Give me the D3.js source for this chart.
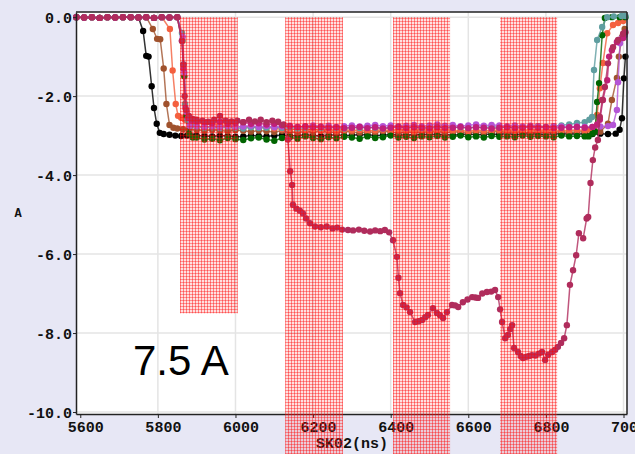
<!DOCTYPE html>
<html>
<head>
<meta charset="utf-8">
<script src="https://cdn.jsdelivr.net/npm/d3@7"></script>
<style>
  body { margin: 0; background: #e7e7f5; }
  svg { display: block; }
</style>
</head>
<body>
<div id="chart"></div>
<script>
// tick values
var xTicks = [5600, 5800, 6000, 6200, 6400, 6600, 6800, 7000];
var yTicks = [0, -2, -4, -6, -8, -10];

// shaded pulse windows (ns), first one only reaches -7.5 A
var pulseStart = [5857, 6128, 6406, 6682];
var pulseEnd   = [6006, 6277, 6553, 6829];
var pulseLow   = [-7.5, null, null, null];

// leading flat part, shared
var leadT = [5590,5610,5630,5650,5670,5690,5710,5730,5750,5770,5790,5810,5830,5850];
var leadV = [0.0,-0.01,0.0,-0.02,0.0,-0.01,0.0,0.0,-0.01,0.0,-0.02,0.0,-0.01,0.0];

// plateau sample times, shared
var plateauT = [5900,5920,5940,5960,5980,6000,6020,6040,6060,6080,
                6100,6120,6140,6160,6180,6200,6220,6240,6260,6280,
                6300,6320,6340,6360,6380,6400,6420,6440,6460,6480,
                6500,6520,6540,6560,6580,6600,6620,6640,6660,6680,
                6700,6720,6740,6760,6780,6800,6820,6840,6860,6880,
                6900];

var blackHead = [[5762,-0.35],[5770,-0.98],[5776,-1.0],[5784,-1.75],[5790,-2.3],[5797,-2.7],[5805,-2.93],[5815,-2.96],[5830,-2.98],[5845,-3.0],[5860,-3.01],[5875,-3.0],[5890,-3.02]];
var blackPlat = [-3.00,-3.01,-3.02,-3.00,-3.01,-3.03,-3.02,-3.00,-3.01,-3.02,
                 -3.00,-2.99,-3.01,-3.00,-2.98,-3.00,-3.01,-2.99,-2.98,-3.00,
                 -2.99,-2.97,-2.98,-3.00,-2.99,-2.97,-2.98,-2.99,-2.97,-2.98,
                 -2.96,-2.98,-2.97,-2.99,-2.97,-2.96,-2.98,-2.97,-2.96,-2.97,
                 -2.95,-2.97,-2.96,-2.95,-2.96,-2.97,-2.95,-2.96,-2.95,-2.96,
                 -2.95];
var blackTail = [[6920,-2.96],[6940,-2.95],[6960,-2.96],[6980,-2.95],[6990,-2.85],[6996,-2.56],[7001,-1.55],[7005,-1.0]];

var siennaHead = [[5787,-0.3],[5798,-0.55],[5806,-0.56],[5815,-1.3],[5822,-2.2],[5830,-2.73],[5840,-2.8],[5850,-2.82],[5865,-2.84],[5880,-2.85]];
var siennaPlat = [-2.86,-2.88,-2.85,-2.87,-2.89,-2.86,-2.88,-2.90,-2.87,-2.89,
                  -2.91,-2.88,-2.90,-2.92,-2.89,-2.91,-2.88,-2.90,-2.92,-2.89,
                  -2.91,-2.93,-2.90,-2.92,-2.89,-2.91,-2.93,-2.90,-2.92,-2.90,
                  -2.91,-2.89,-2.92,-2.90,-2.91,-2.93,-2.90,-2.92,-2.91,-2.89,
                  -2.92,-2.90,-2.91,-2.93,-2.90,-2.92,-2.91,-2.90,-2.92,-2.91,
                  -2.90];
var siennaTail = [[6920,-2.9],[6940,-2.9],[6960,-2.7],[6970,-2.1],[6983,-1.54],[6988,-1.0],[6996,-0.5],[7003,-0.3]];

var tomatoHead = [[5831,-0.3],[5838,-1.35],[5846,-2.2],[5852,-2.5],[5860,-2.55],[5870,-2.6],[5880,-2.65],[5890,-2.68]];
var tomatoPlat = [-2.68,-2.70,-2.72,-2.74,-2.73,-2.76,-2.78,-2.77,-2.80,-2.79,
                  -2.82,-2.84,-2.83,-2.85,-2.86,-2.84,-2.87,-2.86,-2.88,-2.85,
                  -2.87,-2.86,-2.88,-2.87,-2.85,-2.88,-2.86,-2.87,-2.89,-2.86,
                  -2.88,-2.87,-2.86,-2.88,-2.87,-2.89,-2.86,-2.88,-2.87,-2.86,
                  -2.88,-2.87,-2.89,-2.86,-2.88,-2.87,-2.86,-2.88,-2.87,-2.86,
                  -2.87];
var tomatoTail = [[6915,-2.86],[6925,-2.8],[6932,-2.48],[6939,-1.8],[6947,-1.16],[6958,-0.41],[6973,-0.2],[6986,-0.15],[6999,-0.1]];

var greenHead = [[5863,-0.6],[5868,-1.5],[5873,-2.5],[5880,-2.95],[5890,-3.05]];
var greenPlat = [-3.05,-3.10,-3.08,-3.12,-3.06,-3.09,-3.11,-3.07,-3.05,-3.10,
                 -3.13,-3.06,-3.04,-3.08,-3.02,-3.06,-3.09,-3.04,-3.07,-3.03,
                 -3.05,-3.08,-3.02,-3.06,-3.04,-3.00,-3.05,-3.03,-3.06,-3.02,
                 -3.04,-3.01,-3.05,-3.03,-3.00,-3.04,-3.02,-3.05,-3.01,-3.03,
                 -3.02,-3.04,-3.00,-3.03,-3.01,-3.02,-3.04,-3.00,-3.02,-3.01,
                 -3.02];
var greenTail = [[6910,-3.02],[6920,-2.95],[6927,-2.9],[6932,-2.15],[6937,-1.67],[6945,-0.46],[6952,-0.02],[6970,0.0],[6990,0.0],[7005,0.0]];

var tealHead = [[5862,-0.4],[5866,-1.2],[5870,-2.2],[5876,-2.6],[5885,-2.75]];
var tealPlat = [-2.78,-2.80,-2.79,-2.81,-2.78,-2.80,-2.82,-2.79,-2.81,-2.80,
                -2.78,-2.81,-2.79,-2.82,-2.80,-2.78,-2.81,-2.79,-2.80,-2.82,
                -2.79,-2.81,-2.78,-2.80,-2.82,-2.79,-2.77,-2.80,-2.78,-2.81,
                -2.79,-2.77,-2.80,-2.78,-2.79,-2.81,-2.78,-2.80,-2.77,-2.79,
                -2.78,-2.80,-2.78,-2.77,-2.76,-2.78,-2.76,-2.74,-2.72,-2.68,
                -2.66];
var tealTail = [[6912,-2.6],[6919,-2.53],[6924,-1.34],[6932,-0.58],[6945,-0.25],[6958,0.0],[6975,0.02],[6995,0.03],[7005,0.03]];

var orchidHead = [[5864,-0.5],[5868,-1.4],[5874,-2.4],[5882,-2.75]];
var orchidPlat = [-2.76,-2.78,-2.77,-2.79,-2.76,-2.78,-2.77,-2.75,-2.78,-2.76,
                  -2.79,-2.77,-2.75,-2.78,-2.76,-2.74,-2.77,-2.75,-2.78,-2.76,
                  -2.74,-2.77,-2.75,-2.73,-2.76,-2.74,-2.77,-2.75,-2.73,-2.76,
                  -2.74,-2.72,-2.75,-2.73,-2.76,-2.74,-2.72,-2.75,-2.73,-2.74,
                  -2.76,-2.74,-2.77,-2.75,-2.76,-2.78,-2.76,-2.77,-2.78,-2.77,
                  -2.78];
var orchidTail = [[6920,-2.78],[6940,-2.77],[6960,-2.76],[6973,-2.73],[6983,-2.35],[6986,-1.65],[6991,-0.66],[6996,-0.53],[7003,-0.45]];

var violetHead = [[5862,-0.6],[5866,-1.3],[5871,-2.3],[5878,-2.55],[5888,-2.62]];
var violetPlat = [-2.64,-2.66,-2.68,-2.65,-2.70,-2.68,-2.66,-2.70,-2.69,-2.72,
                  -2.70,-2.74,-2.76,-2.78,-2.77,-2.79,-2.78,-2.80,-2.79,-2.81,
                  -2.80,-2.78,-2.81,-2.79,-2.82,-2.80,-2.78,-2.81,-2.79,-2.80,
                  -2.82,-2.79,-2.81,-2.80,-2.78,-2.81,-2.79,-2.80,-2.82,-2.80,
                  -2.79,-2.81,-2.80,-2.78,-2.80,-2.79,-2.81,-2.80,-2.79,-2.78,
                  -2.80];
var violetTail = [[6920,-2.78],[6932,-2.72],[6939,-2.6],[6947,-2.1],[6958,-1.6],[6963,-1.0],[6970,-0.84],[6983,-0.63],[6999,-0.53]];

// the 7.5 A trace
var maroonPts = [[5862,-0.6],[5866,-1.2],[5869,-2.0],[5873,-2.35],[5880,-2.5],[5890,-2.58],
  [5900,-2.6],[5915,-2.62],[5930,-2.65],[5945,-2.6],[5960,-2.5],[5975,-2.62],[5990,-2.64],[6005,-2.62],
  [6020,-2.66],[6035,-2.6],[6050,-2.64],[6065,-2.6],[6080,-2.66],[6095,-2.62],[6110,-2.65],[6124,-2.72],
  [6135,-3.1],[6141,-3.9],[6146,-4.25],[6148,-4.75],[6157,-4.85],[6166,-4.9],[6174,-4.97],[6182,-5.1],
  [6192,-5.22],[6205,-5.3],[6220,-5.32],[6235,-5.3],[6250,-5.35],[6262,-5.33],[6275,-5.38],[6290,-5.39],
  [6303,-5.4],[6318,-5.38],[6332,-5.41],[6347,-5.43],[6360,-5.4],[6373,-5.42],[6385,-5.39],[6396,-5.45],
  [6406,-5.65],[6416,-6.07],[6420,-6.6],[6424,-6.99],[6432,-7.29],[6441,-7.35],[6450,-7.47],[6463,-7.72],
  [6472,-7.7],[6481,-7.67],[6489,-7.6],[6496,-7.54],[6509,-7.37],[6519,-7.49],[6527,-7.55],[6535,-7.62],
  [6545,-7.47],[6558,-7.29],[6566,-7.3],[6574,-7.34],[6586,-7.22],[6598,-7.15],[6610,-7.09],[6618,-7.1],
  [6625,-7.11],[6636,-7.0],[6648,-6.96],[6659,-6.95],[6669,-6.91],[6677,-7.09],[6682,-7.4],[6687,-7.72],
  [6695,-8.13],[6702,-8.05],[6708,-7.9],[6713,-7.8],[6718,-8.38],[6728,-8.48],[6735,-8.58],[6741,-8.63],
  [6750,-8.6],[6757,-8.58],[6764,-8.56],[6773,-8.57],[6782,-8.52],[6790,-8.48],[6798,-8.68],[6806,-8.55],
  [6816,-8.48],[6824,-8.42],[6831,-8.35],[6839,-8.25],[6847,-8.13],[6854,-7.8],[6862,-6.78],[6870,-6.41],
  [6878,-6.03],[6885,-5.47],[6896,-5.6],[6905,-5.1],[6909,-5.06],[6915,-4.2],[6921,-3.62],[6927,-3.3],
  [6934,-3.11],[6939,-2.53],[6945,-2.1],[6952,-1.77],[6960,-1.17],[6973,-0.76],[6986,-0.58],[6999,-0.42],[7005,-0.38]];

var w = 635;
var h = 454;

function buildSeries(head, plat, tail) {
  var firstT = head[0][0];
  var pts = [];
  leadT.forEach(function(t, i) {
    if (t < firstT - 5) pts.push([t, leadV[i]]);
  });
  pts = pts.concat(head);
  plateauT.forEach(function(t, i) {
    if (plat[i] !== undefined) pts.push([t, plat[i]]);
  });
  return pts.concat(tail);
}

var series = [
  { color: "#000000", pts: buildSeries(blackHead, blackPlat, blackTail) },
  { color: "#a0522d", pts: buildSeries(siennaHead, siennaPlat, siennaTail) },
  { color: "#f4603f", pts: buildSeries(tomatoHead, tomatoPlat, tomatoTail) },
  { color: "#006400", pts: buildSeries(greenHead, greenPlat, greenTail) },
  { color: "#5f9ea0", pts: buildSeries(tealHead, tealPlat, tealTail) },
  { color: "#b455d6", pts: buildSeries(orchidHead, orchidPlat, orchidTail) },
  { color: "#c0207a", pts: buildSeries(violetHead, violetPlat, violetTail) },
  { color: "#b02c5c", pts: buildSeries(maroonPts.slice(0, 1), [], maroonPts.slice(1)) }
];

var xScale = d3.scaleLinear().domain([5589, 7009]).range([76, 627]);
var yScale = d3.scaleLinear().domain([0.13, -10.05]).range([12, 414]);

var svg = d3.select("#chart")
            .append("svg")
            .attr("width", w)
            .attr("height", h);

svg.append("rect").attr("width", w).attr("height", h).attr("fill", "#e7e7f5");

// hatch pattern for pulse windows
var defs = svg.append("defs");
var pat = defs.append("pattern")
              .attr("id", "hatch")
              .attr("patternUnits", "userSpaceOnUse")
              .attr("width", 3)
              .attr("height", 3);
pat.append("rect").attr("width", 3).attr("height", 3).attr("fill", "rgba(255,60,60,0.16)");
pat.append("rect").attr("width", 1).attr("height", 3).attr("fill", "rgba(255,0,0,0.42)");
pat.append("rect").attr("width", 3).attr("height", 1).attr("fill", "rgba(255,0,0,0.36)");

// plot area
svg.append("rect")
   .attr("x", xScale.range()[0])
   .attr("y", yScale.range()[0])
   .attr("width", xScale.range()[1] - xScale.range()[0])
   .attr("height", yScale.range()[1] - yScale.range()[0])
   .attr("fill", "#ffffff");

// grid
svg.append("g").selectAll("line")
   .data(xTicks.filter(function(d) { return d > 5600; }))
   .enter().append("line")
   .attr("x1", function(d) { return xScale(d); })
   .attr("x2", function(d) { return xScale(d); })
   .attr("y1", yScale.range()[0])
   .attr("y2", yScale.range()[1])
   .attr("stroke", "#e4e4e4")
   .attr("stroke-width", 1.5);

svg.append("g").selectAll("line")
   .data(yTicks)
   .enter().append("line")
   .attr("x1", xScale.range()[0])
   .attr("x2", xScale.range()[1])
   .attr("y1", function(d) { return yScale(d); })
   .attr("y2", function(d) { return yScale(d); })
   .attr("stroke", "#e4e4e4")
   .attr("stroke-width", 1.5);

// traces
var line = d3.line()
             .x(function(d) { return xScale(d[0]); })
             .y(function(d) { return yScale(d[1]); });

var traces = svg.append("g");
series.forEach(function(s) {
  var g = traces.append("g");
  g.append("path")
   .datum(s.pts)
   .attr("d", line)
   .attr("fill", "none")
   .attr("stroke", s.color)
   .attr("stroke-opacity", 0.8)
   .attr("stroke-width", 1.5);
  g.selectAll("circle")
   .data(s.pts)
   .enter().append("circle")
   .attr("cx", function(d) { return xScale(d[0]); })
   .attr("cy", function(d) { return yScale(d[1]); })
   .attr("r", 3.2)
   .attr("fill", s.color);
});

// axes
var xAxis = d3.axisBottom(xScale)
              .tickValues(xTicks)
              .tickSize(4)
              .tickSizeOuter(0)
              .tickFormat(d3.format("d"));
var yAxis = d3.axisLeft(yScale)
              .tickValues(yTicks)
              .tickSize(3)
              .tickSizeOuter(0)
              .tickFormat(function(d) { return d.toFixed(1); });

var gx = svg.append("g").attr("transform", "translate(0," + yScale.range()[1] + ")").call(xAxis);
var gy = svg.append("g").attr("transform", "translate(" + xScale.range()[0] + ",0)").call(yAxis);

[gx, gy].forEach(function(g) {
  g.select(".domain").attr("stroke", "#222").attr("stroke-width", 1.5);
  g.selectAll(".tick line").attr("stroke", "#222");
  g.selectAll("text")
   .attr("fill", "#111")
   .style("font-family", "'Liberation Mono', 'DejaVu Sans Mono', monospace")
   .style("font-weight", "bold")
   .style("font-size", "15px");
});
gx.selectAll("text").attr("y", 18).attr("dy", 0).attr("dx", 5);
gy.selectAll("text").attr("x", -4).attr("dy", "0.34em");

// top and right frame
svg.append("line")
   .attr("x1", xScale.range()[0]).attr("x2", xScale.range()[1])
   .attr("y1", yScale.range()[0]).attr("y2", yScale.range()[0])
   .attr("stroke", "#222").attr("stroke-width", 1.5);
svg.append("line")
   .attr("x1", xScale.range()[1]).attr("x2", xScale.range()[1])
   .attr("y1", yScale.range()[0]).attr("y2", yScale.range()[1])
   .attr("stroke", "#222").attr("stroke-width", 1.5);

// axis titles
svg.append("text")
   .attr("x", 352).attr("y", 448)
   .attr("text-anchor", "middle")
   .style("font-family", "'Liberation Mono', monospace")
   .style("font-weight", "bold")
   .style("font-size", "15px")
   .attr("fill", "#111")
   .text("SK02(ns)");
svg.append("text")
   .attr("x", 18).attr("y", 217)
   .attr("text-anchor", "middle")
   .style("font-family", "'Liberation Mono', monospace")
   .style("font-weight", "bold")
   .style("font-size", "12px")
   .attr("fill", "#111")
   .text("A");

// pulse windows
svg.append("g").selectAll("rect")
   .data(pulseStart)
   .enter().append("rect")
   .attr("x", function(d) { return xScale(d); })
   .attr("y", yScale(0))
   .attr("width", function(d, i) { return xScale(pulseEnd[i]) - xScale(d); })
   .attr("height", function(d, i) {
     var bottom = pulseLow[i] === null ? h : yScale(pulseLow[i]);
     return bottom - yScale(0);
   })
   .attr("fill", "url(#hatch)");

// annotation
svg.append("text")
   .attr("x", 133).attr("y", 375)
   .style("font-family", "'Liberation Sans', Arial, sans-serif")
   .style("font-size", "42px")
   .attr("fill", "#000")
   .text("7.5 A");
</script>
</body>
</html>
